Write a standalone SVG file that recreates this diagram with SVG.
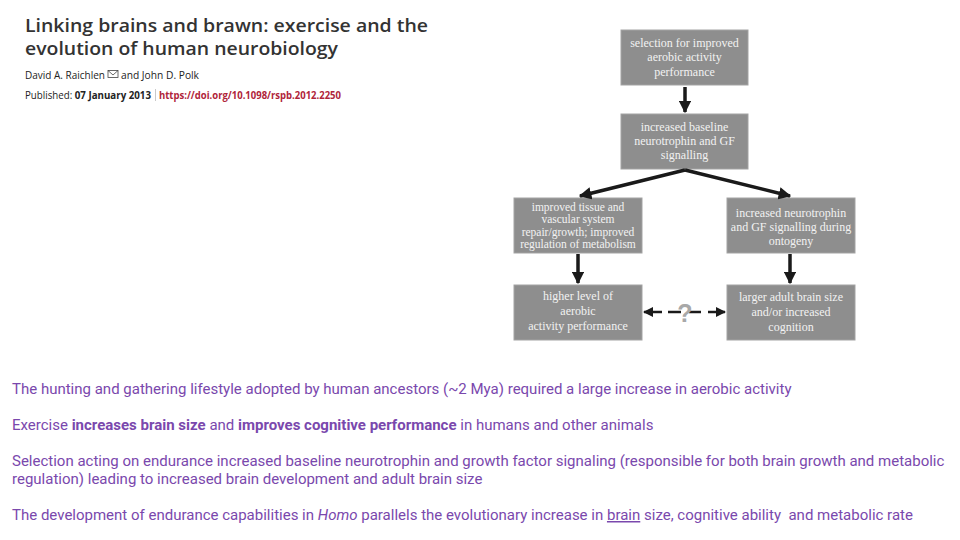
<svg xmlns="http://www.w3.org/2000/svg" width="960" height="540" viewBox="0 0 960 540">
<style>
.box{fill:#8e8e8e;stroke:#a3a3a3;stroke-width:1}
.bt{font-family:"Liberation Serif","Times New Roman",serif;font-size:12px;fill:#f2f2f2;text-anchor:middle}
.ln{stroke:#1a1a1a;stroke-width:3.5;fill:none}
.bl{font-family:Roboto,"Liberation Sans",sans-serif;font-size:15px;fill:#7a48ad;white-space:pre}
.tt{font-family:"Open Sans","Liberation Sans",sans-serif;font-size:18.5px;font-weight:600;fill:#333}
.sm{font-family:"Open Sans","Liberation Sans",sans-serif;font-size:10px;fill:#222}
</style>
<defs>
<marker id="ah" viewBox="0 0 10 10" refX="9" refY="5" markerWidth="3.6" markerHeight="3.6" orient="auto" markerUnits="strokeWidth">
<path d="M0,0 L10,5 L0,10 z" fill="#1a1a1a"/>
</marker>
<marker id="ahs" viewBox="0 0 10 10" refX="9" refY="5" markerWidth="4" markerHeight="4" orient="auto" markerUnits="strokeWidth">
<path d="M0,0 L10,5 L0,10 z" fill="#1a1a1a"/>
</marker>
</defs>
<rect width="960" height="540" fill="#fff"/>

<g id="header">
<text class="tt" x="25" y="32" textLength="403" lengthAdjust="spacingAndGlyphs">Linking brains and brawn: exercise and the</text>
<text class="tt" x="25" y="55" textLength="313" lengthAdjust="spacingAndGlyphs">evolution of human neurobiology</text>
<text class="sm" x="25" y="79" textLength="80" lengthAdjust="spacingAndGlyphs">David A. Raichlen</text>
<g fill="none" stroke="#444" stroke-width="0.8"><rect x="108" y="70.5" width="10" height="7"/><polyline points="108,70.5 113,75 118,70.5"/></g>
<text class="sm" x="121" y="79" textLength="78" lengthAdjust="spacingAndGlyphs">and John D. Polk</text>
<text class="sm" x="25" y="99" textLength="126" lengthAdjust="spacingAndGlyphs">Published: <tspan font-weight="700">07 January 2013</tspan></text>
<line x1="155.5" y1="89" x2="155.5" y2="101" stroke="#bbb" stroke-width="0.8"/>
<text class="sm" x="159" y="99" font-weight="700" style="fill:#b0243a" textLength="182" lengthAdjust="spacingAndGlyphs">https://doi.org/10.1098/rspb.2012.2250</text>
</g>

<g id="n1"><rect class="box" x="621" y="30" width="127" height="55"/>
<text class="bt"><tspan x="684.5" y="47">selection for improved</tspan><tspan x="684.5" y="61">aerobic activity</tspan><tspan x="684.5" y="76">performance</tspan></text></g>
<g id="n2"><rect class="box" x="621" y="114" width="127" height="55"/>
<text class="bt"><tspan x="684.5" y="131">increased baseline</tspan><tspan x="684.5" y="145">neurotrophin and GF</tspan><tspan x="684.5" y="159">signalling</tspan></text></g>
<g id="n3"><rect class="box" x="514" y="198" width="128" height="55"/>
<text class="bt" style="font-size:11.5px"><tspan x="578" y="210.5">improved tissue and</tspan><tspan x="578" y="223">vascular system</tspan><tspan x="578" y="235.5">repair/growth; improved</tspan><tspan x="578" y="248">regulation of metabolism</tspan></text></g>
<g id="n4"><rect class="box" x="727" y="198" width="128" height="55"/>
<text class="bt"><tspan x="791" y="217">increased neurotrophin</tspan><tspan x="791" y="231">and GF signalling during</tspan><tspan x="791" y="245">ontogeny</tspan></text></g>
<g id="n5"><rect class="box" x="514" y="285" width="128" height="55"/>
<text class="bt"><tspan x="578" y="300">higher level of</tspan><tspan x="578" y="315">aerobic</tspan><tspan x="578" y="330">activity performance</tspan></text></g>
<g id="n6"><rect class="box" x="727" y="285" width="128" height="55"/>
<text class="bt"><tspan x="791" y="301">larger adult brain size</tspan><tspan x="791" y="316">and/or increased</tspan><tspan x="791" y="331">cognition</tspan></text></g>

<g id="connectors">
<line class="ln" x1="685" y1="87" x2="685" y2="112" marker-end="url(#ah)"/>
<line class="ln" x1="685" y1="170" x2="580" y2="196" marker-end="url(#ah)"/>
<line class="ln" x1="685" y1="170" x2="790" y2="196" marker-end="url(#ah)"/>
<line class="ln" x1="578" y1="254" x2="578" y2="283" marker-end="url(#ah)"/>
<line class="ln" x1="790" y1="254" x2="790" y2="283" marker-end="url(#ah)"/>
<line x1="662" y1="312" x2="644" y2="312" stroke="#1a1a1a" stroke-width="2.5" marker-end="url(#ahs)"/>
<line x1="668" y1="312" x2="681" y2="312" stroke="#1a1a1a" stroke-width="2.5"/>
<line x1="689" y1="312" x2="701" y2="312" stroke="#1a1a1a" stroke-width="2.5"/>
<line x1="708" y1="312" x2="725" y2="312" stroke="#1a1a1a" stroke-width="2.5" marker-end="url(#ahs)"/>
<text x="685" y="322" font-family="Liberation Sans, Arial, sans-serif" font-size="25" font-weight="700" fill="#a8a8a8" text-anchor="middle">?</text>
</g>

<g id="bullets">
<text class="bl" x="12" y="394">The hunting and gathering lifestyle adopted by human ancestors (~2 Mya) required a large increase in aerobic activity</text>
<text class="bl" x="12" y="430">Exercise <tspan font-weight="700">increases brain size</tspan> and <tspan font-weight="700">improves cognitive performance</tspan> in humans and other animals</text>
<text class="bl" x="12" y="466">Selection acting on endurance increased baseline neurotrophin and growth factor signaling (responsible for both brain growth and metabolic</text>
<text class="bl" x="12" y="484">regulation) leading to increased brain development and adult brain size</text>
<text class="bl" x="12" y="520">The development of endurance capabilities in <tspan font-style="italic">Homo</tspan> parallels the evolutionary increase in <tspan text-decoration="underline">brain</tspan> size, cognitive ability  and metabolic rate</text>
</g>
</svg>
